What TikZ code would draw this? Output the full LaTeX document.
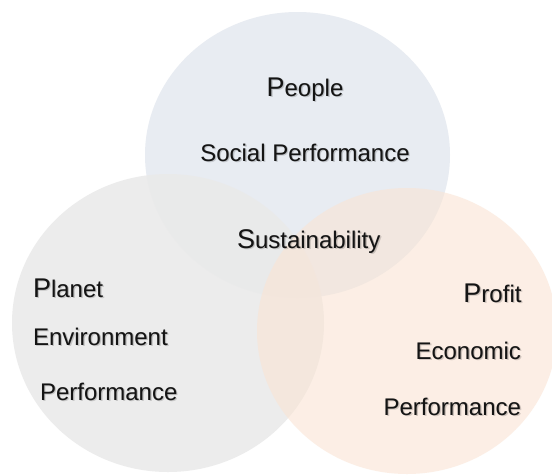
\documentclass[tikz,border=0pt]{standalone}
\usepackage{fontspec}
\setmainfont{Liberation Sans}
\usetikzlibrary{calc}
\definecolor{topc}{RGB}{232,236,242}
\definecolor{leftc}{RGB}{234,234,234}
\definecolor{rightc}{RGB}{250,228,212}
\definecolor{txt}{RGB}{20,20,20}
\newcommand\firstcap[1]{{\fontsize{27}{30}\selectfont #1}}
\newcommand\lab[4]{%
  \node[shd, anchor=#3] (#1-s) at ($(#2)+(1.4,1.7)$) {#4};
  \node[shd2, anchor=#3] (#1-t) at ($(#2)+(0.6,0.8)$) {#4};
  \node[lbl, anchor=#3] (#1) at (#2) {#4};}
\begin{document}
\begin{tikzpicture}[x=1pt,y=-1pt,
  lbl/.style={inner sep=0pt, outer sep=0pt, text=txt, font=\fontsize{24}{28}\selectfont},
  shd/.style={lbl, text=black, text opacity=0.16},
  shd2/.style={lbl, text=black, text opacity=0.14},
  venn/.style={draw=none}]
\useasboundingbox (0,0) rectangle (552,475);
\fill[white] (0,0) rectangle (552,475);
% circles
\fill[venn, topc] (297.5,155) ellipse [x radius=152.5, y radius=143];
\fill[venn, leftc, fill opacity=0.9] (168,323) ellipse [x radius=156, y radius=149];
\fill[venn, rightc, fill opacity=0.6] (407,331) ellipse [x radius=150, y radius=143];
% label positions
\coordinate (pPeople) at (305,96);
\coordinate (pSocial) at (305,161);
\coordinate (pSust) at (237,248);
\coordinate (pPlanet) at (33,297);
\coordinate (pEnv) at (33,345);
\coordinate (pPerfL) at (40,400);
\coordinate (pProfit) at (521.5,302);
\coordinate (pEcon) at (521,359);
\coordinate (pPerfR) at (521,415);
% labels
\lab{people}{pPeople}{base}{\firstcap{P}eople}
\lab{social}{pSocial}{base}{Social Performance}
\lab{sust}{pSust}{base west}{\firstcap{S}ustainability}
\lab{planet}{pPlanet}{base west}{\firstcap{P}lanet}
\lab{env}{pEnv}{base west}{Environment}
\lab{perfl}{pPerfL}{base west}{Performance}
\lab{profit}{pProfit}{base east}{\firstcap{P}rofit}
\lab{econ}{pEcon}{base east}{Economic}
\lab{perfr}{pPerfR}{base east}{Performance}
\end{tikzpicture}
\end{document}
